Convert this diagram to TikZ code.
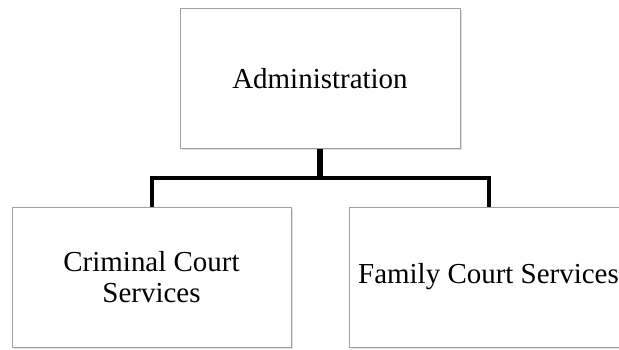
\documentclass[tikz,border=0pt]{standalone}
\usepackage{fontspec}
\setmainfont{Liberation Serif}
\usepackage{tikz}
\definecolor{boxgray}{RGB}{160, 160, 160}
\colorlet{linecolor}{black}
\usetikzlibrary{
  calc,
  positioning,
  shadows,
}
\tikzset{
  unitbox/.style={draw=boxgray, line width=0.6pt, fill=white,
    minimum width=6.975cm, minimum height=3.5cm, align=center,
    font=\fontsize{20.6}{21.5}\selectfont,
    drop shadow={shadow xshift=0.04cm, shadow yshift=-0.05cm, opacity=0.25}},
  orgline/.style={linecolor, line width=0.1cm},
}

\begin{document}
\begin{tikzpicture}
      \useasboundingbox (0,0) rectangle (15.475,8.75);
      \node [unitbox, minimum width=7cm] at (8.0,6.7875) (admin) {Administration};
      \node [unitbox] at (3.7875,1.825) (criminal) {Criminal Court\\Services};
      \node [unitbox] at (12.2125,1.825) (family) {Family Court Services};
      \coordinate (junction) at ($(admin.south)!0.5!(admin.south |- criminal.north)$);
      \draw [orgline, line width=0.13cm] (admin.south) -- (junction);
      \draw [orgline] (criminal.north) |- (junction) -| (family.north);
    \end{tikzpicture}
\end{document}
